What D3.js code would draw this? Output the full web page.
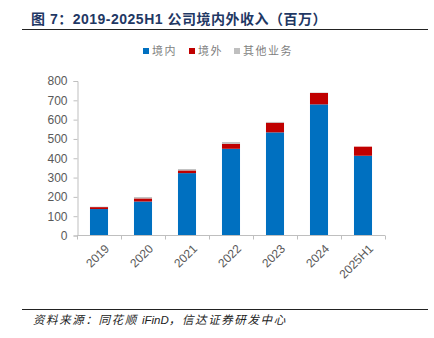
<!doctype html>
<html>
<head>
<meta charset="utf-8"/>
<title>2019-2025H1 公司境内外收入</title>
<script src="https://d3js.org/d3.v7.min.js"></script>
<style>
  body { margin: 0; background: #fff; }
  svg { display: block; }
</style>
</head>
<body>
<script>
// categories and series (百万)
const years    = ['2019', '2020', '2021', '2022', '2023', '2024', '2025H1'];
const domestic = [137, 176, 323, 449, 534, 679, 413];
const overseas = [10, 16, 14, 26, 50, 59, 47];
const other    = [2, 7, 7, 9, 4, 2, 0];
const seriesNames  = ['境内', '境外', '其他业务'];
const seriesColors = ['#0070C0', '#C00000', '#BFBFBF'];
const yTicks = [0, 100, 200, 300, 400, 500, 600, 700, 800];

const W = 434, H = 338;
const svg = d3.select('body').append('svg').attr('width', W).attr('height', H);

// title + rules
svg.append('text')
   .attr('x', 31).attr('y', 24)
   .attr('font-family', 'Arial, "Noto Sans CJK SC", sans-serif')
   .attr('font-weight', 'bold').attr('font-size', 14)
   .attr('letter-spacing', 0.5)
   .attr('fill', '#1F3864')
   .text('图 7：2019-2025H1 公司境内外收入（百万）');
svg.append('line').attr('x1', 22).attr('x2', 428).attr('y1', 29.5).attr('y2', 29.5)
   .attr('stroke', '#222').attr('stroke-width', 1);
svg.append('line').attr('x1', 22).attr('x2', 428).attr('y1', 309.5).attr('y2', 309.5)
   .attr('stroke', '#222').attr('stroke-width', 1);

// source note: chinese parts spaced, latin part tight
const src = svg.append('text')
   .attr('x', 33).attr('y', 324)
   .attr('font-family', '"Noto Sans CJK SC", sans-serif')
   .attr('font-style', 'italic').attr('font-size', 11.5)
   .attr('fill', '#222');
src.append('tspan').attr('letter-spacing', 1.6).text('资料来源：同花顺 ');
src.append('tspan').attr('font-family', 'Arial, "Liberation Sans", sans-serif').text('iFinD');
src.append('tspan').attr('letter-spacing', 1.6).text('，信达证券研发中心');

// legend
const legendX = [143, 189, 234];
const lg = svg.selectAll('.legend').data(seriesNames).enter().append('g')
   .attr('class', 'legend')
   .attr('transform', (d, i) => `translate(${legendX[i]},50)`);
lg.append('rect').attr('x', 0).attr('y', -2).attr('width', 6).attr('height', 6)
   .attr('fill', (d, i) => seriesColors[i]);
lg.append('text').attr('x', 9).attr('y', 5)
   .attr('font-family', '"Noto Sans CJK SC", sans-serif').attr('font-size', 11)
   .attr('letter-spacing', 1.5)
   .attr('fill', '#7F7F7F')
   .text(d => d);

// scales
const x = d3.scaleBand().domain(years).range([77, 385]).paddingInner(0.59).paddingOuter(0.295);
const y = d3.scaleLinear().domain([0, 800]).range([235.5, 81]);

// stacked data
const rows = years.map((yr, i) => ({ year: yr, d: domestic[i], o: overseas[i], g: other[i] }));
const stack = d3.stack().keys(['d', 'o', 'g'])(rows);

svg.selectAll('.series').data(stack).enter().append('g')
   .attr('fill', (d, i) => seriesColors[i])
   .selectAll('rect').data(d => d).enter().append('rect')
   .attr('x', d => x(d.data.year))
   .attr('width', x.bandwidth())
   .attr('y', d => y(d[1]))
   .attr('height', d => y(d[0]) - y(d[1]));

// y axis
const yAxis = svg.append('g').attr('transform', 'translate(77.5,0)')
   .call(d3.axisLeft(y).tickValues(yTicks).tickSize(4).tickPadding(6));
yAxis.select('.domain').attr('stroke', '#BFBFBF');
yAxis.selectAll('.tick line').attr('stroke', '#BFBFBF');
yAxis.selectAll('.tick text').attr('font-family', 'Arial, "Liberation Sans", sans-serif')
   .attr('font-size', 12).attr('fill', '#595959');

// x axis
const step = x.step();
const xAxisG = svg.append('g').attr('transform', `translate(0,${y(0)})`);
xAxisG.append('line').attr('x1', 77).attr('x2', 385).attr('y1', 0).attr('y2', 0)
   .attr('stroke', '#BFBFBF');
xAxisG.selectAll('.xt').data(d3.range(years.length + 1)).enter().append('line')
   .attr('x1', i => Math.round(77 + i * step) + 0.5).attr('x2', i => Math.round(77 + i * step) + 0.5)
   .attr('y1', 0).attr('y2', 4).attr('stroke', '#BFBFBF');
xAxisG.selectAll('.xl').data(years).enter().append('text')
   .attr('transform', d => `translate(${x(d) + x.bandwidth() / 2 + 5},8) rotate(-45)`)
   .attr('text-anchor', 'end').attr('dy', '0.7em')
   .attr('font-family', 'Arial, "Liberation Sans", sans-serif')
   .attr('font-size', 12).attr('fill', '#595959')
   .text(d => d);
</script>
</body>
</html>
